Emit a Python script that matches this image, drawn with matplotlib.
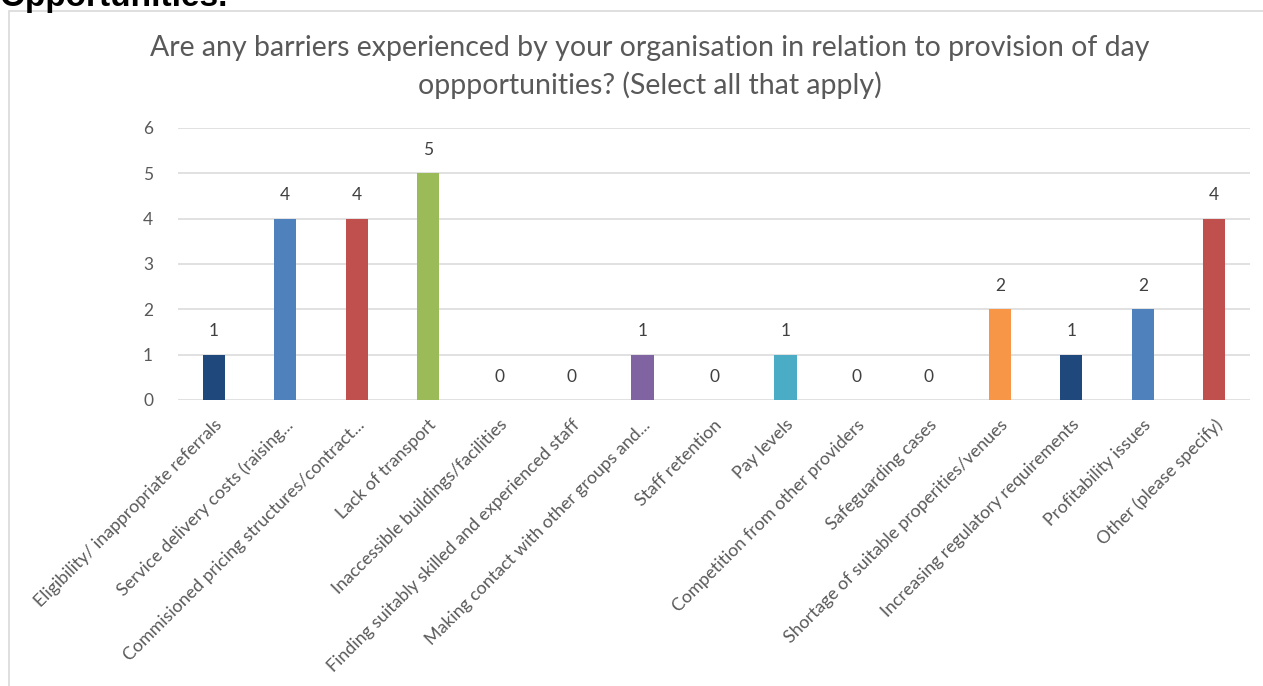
import matplotlib
matplotlib.use("Agg")
import matplotlib.pyplot as plt
from matplotlib.patches import Rectangle

categories = [
    "Eligibility/ inappropriate referrals",
    "Service delivery costs (raising...",
    "Commisioned pricing structures/contract...",
    "Lack of transport",
    "Inaccessible buildings/facilities",
    "Finding suitably skilled and experienced staff",
    "Making contact with other groups and...",
    "Staff retention",
    "Pay levels",
    "Competition from other providers",
    "Safeguarding cases",
    "Shortage of suitable properities/venues",
    "Increasing regulatory requirements",
    "Profitability issues",
    "Other (please specify)",
]
counts = [1, 4, 4, 5, 0, 0, 1, 0, 1, 0, 0, 2, 1, 2, 4]
bar_colors = [
    "#1F497D", "#4F81BD", "#C0504D", "#9BBB59", "#4BACC6", "#F79646",
    "#8064A2", "#1F497D", "#4BACC6", "#4F81BD", "#C0504D", "#F79646",
    "#1F497D", "#4F81BD", "#C0504D",
]
y_ticks = [0, 1, 2, 3, 4, 5, 6]
title = ("Are any barriers experienced by your organisation in relation to provision of day\n"
         "oppportunities? (Select all that apply)")

W, H = 1263, 686
fig = plt.figure(figsize=(W / 100, H / 100), dpi=100)
fig.patch.set_facecolor("white")

# chart frame
fig.patches.append(Rectangle((9 / W, -0.05), 1.1, 1 - 11 / H + 0.05,
                             transform=fig.transFigure, fill=False,
                             edgecolor="#D9D9D9", linewidth=1.2))

# section heading above the chart
fig.text(0 / W, 1 - 6 / H, "Opportunities.", fontsize=24, fontweight="bold",
         family="Liberation Sans", color="black", ha="left", va="baseline")

text_gray = "#595959"
font = ["Lato", "DejaVu Sans"]

left, right = 178 / W, 1250 / W
bottom, top = 1 - 400 / H, 1 - 128 / H
ax = fig.add_axes([left, bottom, right - left, top - bottom])

x = range(len(categories))
ax.bar(x, counts, width=0.31, color=bar_colors, zorder=3)
ax.set_xlim(-0.5, len(categories) - 0.5)
ax.set_ylim(0, 6)
ax.set_yticks(y_ticks)
ax.yaxis.grid(True, color="#D9D9D9", linewidth=1.1, zorder=0)
ax.set_axisbelow(True)
for s in ax.spines.values():
    s.set_visible(False)
ax.tick_params(axis="both", length=0)
ax.tick_params(axis="y", pad=18, labelsize=12.5, labelcolor=text_gray)
for lab in ax.get_yticklabels():
    lab.set_family(font)

ax.set_xticks(list(x))
ax.set_xticklabels(categories, rotation=45, ha="right", va="top",
                   rotation_mode="anchor", fontsize=12.8, color=text_gray,
                   family=font)
ax.tick_params(axis="x", pad=12)

for xi, v in zip(x, counts):
    ax.annotate(str(v), (xi, v), xytext=(0, 11), textcoords="offset points",
                ha="center", va="bottom", fontsize=12.5, color="#404040",
                family=font)

fig.text(650 / W, 1 - 67 / H, title, ha="center", va="center",
         fontsize=20.5, color=text_gray, family=font, linespacing=1.5)

fig.savefig("out.png", dpi=100, facecolor="white")
